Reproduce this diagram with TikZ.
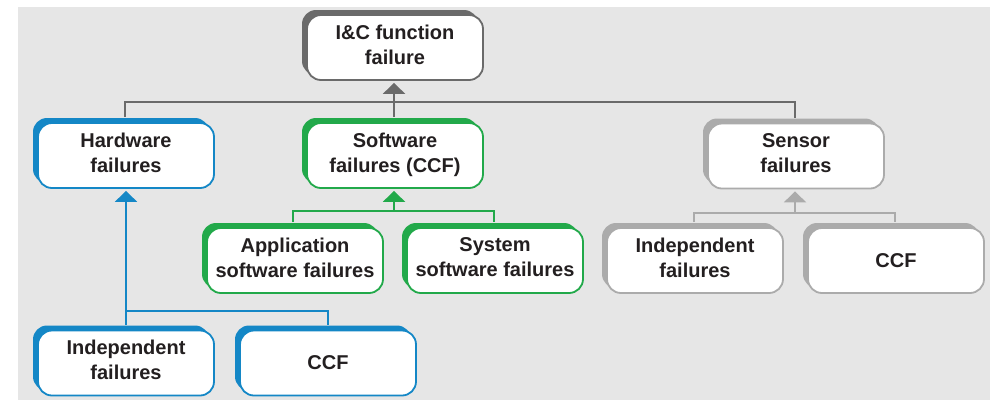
\documentclass[tikz,border=0pt]{standalone}
\usepackage{fontspec}
\setmainfont{Liberation Sans}
\usetikzlibrary{shadows,arrows.meta}
\definecolor{bgc}{HTML}{E6E6E6}
\definecolor{txt}{HTML}{231F20}
\definecolor{dgray}{HTML}{6A6A6A}
\definecolor{lgray}{HTML}{ABABAB}
\definecolor{bblue}{HTML}{1487C6}
\definecolor{ggreen}{HTML}{22A94A}
\newcommand{\lowfix}{\rule[-6pt]{0pt}{6pt}}
\tikzset{
  fbox/.style={draw=#1, fill=white, line width=1.8pt, rounded corners=14pt,
    minimum width=176pt, minimum height=65pt, inner sep=0pt, align=center,
    text=txt, font=\fontsize{20pt}{25pt}\selectfont\bfseries,
    general shadow={fill=#1, shadow xshift=-5pt, shadow yshift=5pt}},
  conn/.style={draw=#1, line width=2.2pt},
  tip/.style={-{Triangle[width=22pt,length=11pt]}, shorten >=2pt}
}
\begin{document}
\begin{tikzpicture}[x=1pt,y=-1pt]
\useasboundingbox (0,0) rectangle (990,400);
\fill[bgc] (18,7) rectangle (990,400);
% nodes
\node[fbox=dgray] (ic) at (395,47.5) {I\&C function\\failure\lowfix};
\node[fbox=bblue] (hw) at (126,155.5) {Hardware\\failures\lowfix};
\node[fbox=ggreen] (sw) at (395,155.5) {Software\\failures (CCF)\lowfix};
\node[fbox=lgray] (sen) at (796,156) {Sensor\\failures\lowfix};
\node[fbox=ggreen] (app) at (295,260.5) {Application\\software failures\lowfix};
\node[fbox=ggreen] (sys) at (495,260.5) {System\\software failures\lowfix};
\node[fbox=lgray] (sei) at (695,260.5) {Independent\\failures\lowfix};
\node[fbox=lgray] (sec) at (896,260.5) {CCF};
\node[fbox=bblue] (hwi) at (126,363) {Independent\\failures\lowfix};
\node[fbox=bblue] (hwc) at (328,363) {CCF};
% connectors
\coordinate (topbar) at (394,102);
\coordinate (swbar) at (394,211);
\coordinate (senbar) at (795,213);
\coordinate (hwbar) at (126,311);
\draw[conn=dgray] ([yshift=5pt,xshift=-1pt]hw.north) -- ([xshift=-1pt]hw.north |- topbar) -- ([xshift=-1pt]sen.north |- topbar) -- ([yshift=5pt,xshift=-1pt]sen.north);
\draw[conn=dgray, tip] ([yshift=5pt,xshift=-1pt]sw.north) -- ([xshift=-1pt]ic.south);
\draw[conn=ggreen] ([yshift=5pt,xshift=-2pt]app.north) -- ([xshift=-2pt]app.north |- swbar) -- ([xshift=-1pt]sys.north |- swbar) -- ([yshift=5pt,xshift=-1pt]sys.north);
\draw[conn=ggreen, tip] (swbar) -- ([xshift=-1pt]sw.south);
\draw[conn=lgray] ([yshift=5pt,xshift=-1pt]sei.north) -- ([xshift=-1pt]sei.north |- senbar) -- ([xshift=-1pt]sec.north |- senbar) -- ([yshift=5pt,xshift=-1pt]sec.north);
\draw[conn=lgray, tip] (senbar) -- ([xshift=-1pt]sen.south);
\draw[conn=bblue, tip] ([yshift=5pt]hwi.north) -- (hw.south);
\draw[conn=bblue] (hwbar) -- (hwc.north |- hwbar) -- ([yshift=5pt]hwc.north);
\end{tikzpicture}
\end{document}
